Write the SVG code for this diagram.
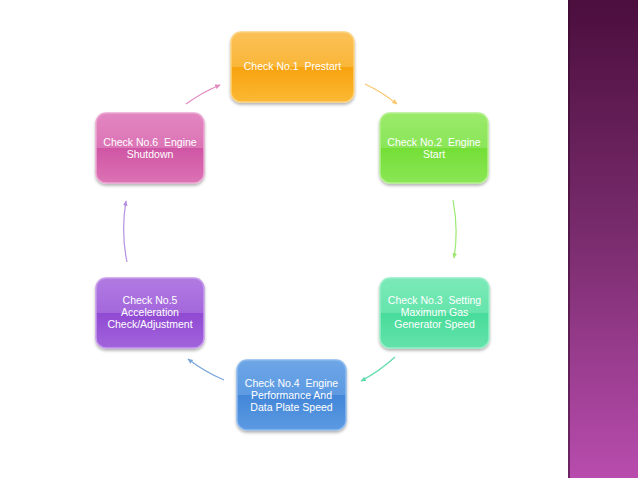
<svg xmlns="http://www.w3.org/2000/svg" width="638" height="478" viewBox="0 0 638 478">
<defs>
<linearGradient id="bar" x1="0" y1="0" x2="0" y2="1">
<stop offset="0" stop-color="#4b0e3d"/><stop offset="0.5" stop-color="#7a2c6e"/><stop offset="1" stop-color="#b84cae"/>
</linearGradient>
<linearGradient id="gOr" x1="0" y1="0" x2="0" y2="1">
<stop offset="0" stop-color="#fbc158"/><stop offset="0.5" stop-color="#f9b638"/><stop offset="0.5" stop-color="#f7a30e"/><stop offset="1" stop-color="#fbb834"/>
</linearGradient>
<linearGradient id="gGr" x1="0" y1="0" x2="0" y2="1">
<stop offset="0" stop-color="#9bea6a"/><stop offset="0.5" stop-color="#8ae658"/><stop offset="0.5" stop-color="#74df36"/><stop offset="1" stop-color="#8ae656"/>
</linearGradient>
<linearGradient id="gTe" x1="0" y1="0" x2="0" y2="1">
<stop offset="0" stop-color="#7beab8"/><stop offset="0.5" stop-color="#66e4ac"/><stop offset="0.5" stop-color="#48dc9a"/><stop offset="1" stop-color="#64e2aa"/>
</linearGradient>
<linearGradient id="gBl" x1="0" y1="0" x2="0" y2="1">
<stop offset="0" stop-color="#6ea6e6"/><stop offset="0.5" stop-color="#5d9ae2"/><stop offset="0.5" stop-color="#4386d8"/><stop offset="1" stop-color="#5c9ae2"/>
</linearGradient>
<linearGradient id="gPu" x1="0" y1="0" x2="0" y2="1">
<stop offset="0" stop-color="#b07ae2"/><stop offset="0.5" stop-color="#a468dc"/><stop offset="0.5" stop-color="#904ad2"/><stop offset="1" stop-color="#a264dc"/>
</linearGradient>
<linearGradient id="gPk" x1="0" y1="0" x2="0" y2="1">
<stop offset="0" stop-color="#e286c0"/><stop offset="0.5" stop-color="#dc74b6"/><stop offset="0.5" stop-color="#cf56a4"/><stop offset="1" stop-color="#dc72b4"/>
</linearGradient>
<filter id="sh" x="-10%" y="-10%" width="120%" height="130%">
<feDropShadow dx="0" dy="2" stdDeviation="1.5" flood-color="#000" flood-opacity="0.3"/>
</filter>
<marker id="aOr" viewBox="0 0 10 10" refX="8" refY="5" markerWidth="5" markerHeight="5" orient="auto"><path d="M0,1 L9,5 L0,9 z" fill="#fbc76a"/></marker>
<marker id="aGr" viewBox="0 0 10 10" refX="8" refY="5" markerWidth="5" markerHeight="5" orient="auto"><path d="M0,1 L9,5 L0,9 z" fill="#9ce874"/></marker>
<marker id="aTe" viewBox="0 0 10 10" refX="8" refY="5" markerWidth="5" markerHeight="5" orient="auto"><path d="M0,1 L9,5 L0,9 z" fill="#5fdcaa"/></marker>
<marker id="aBl" viewBox="0 0 10 10" refX="8" refY="5" markerWidth="5" markerHeight="5" orient="auto"><path d="M0,1 L9,5 L0,9 z" fill="#7aa6dc"/></marker>
<marker id="aPu" viewBox="0 0 10 10" refX="8" refY="5" markerWidth="5" markerHeight="5" orient="auto"><path d="M0,1 L9,5 L0,9 z" fill="#b690e2"/></marker>
<marker id="aPk" viewBox="0 0 10 10" refX="8" refY="5" markerWidth="5" markerHeight="5" orient="auto"><path d="M0,1 L9,5 L0,9 z" fill="#e08ac0"/></marker>
</defs>
<style>
.box{stroke-width:1.5;filter:url(#sh)}
.t{font-family:"Liberation Sans",Arial,sans-serif;font-size:10.5px;fill:#ffffff;text-anchor:middle;white-space:pre}
.c{fill:none;stroke-width:1.2}
</style>
<rect width="638" height="478" fill="#ffffff"/>
<rect x="568" y="0" width="70" height="478" fill="url(#bar)"/>
<rect x="568" y="0" width="2" height="478" fill="#3a0a30" opacity="0.6"/>

<g id="connectors">
<path class="c" d="M365,84 A165,165 0 0 1 397,104" stroke="#fbc76a" marker-end="url(#aOr)"/>
<path class="c" d="M453,200 A165,165 0 0 1 454,258" stroke="#9ce874" marker-end="url(#aGr)"/>
<path class="c" d="M395,357 A165,165 0 0 1 361,381" stroke="#5fdcaa" marker-end="url(#aTe)"/>
<path class="c" d="M224,380 A165,165 0 0 1 188,359" stroke="#7aa6dc" marker-end="url(#aBl)"/>
<path class="c" d="M127,262 A165,165 0 0 1 126,201" stroke="#b690e2" marker-end="url(#aPu)"/>
<path class="c" d="M186,104 A165,165 0 0 1 220,85" stroke="#e08ac0" marker-end="url(#aPk)"/>
</g>

<g id="n1">
<rect class="box" x="231" y="32" width="123" height="70" rx="10" fill="url(#gOr)" stroke="#fcd27c"/>
<text class="t" x="292.5" y="70" xml:space="preserve">Check No.1  Prestart</text>
</g>
<g id="n2">
<rect class="box" x="380" y="113" width="108" height="70" rx="10" fill="url(#gGr)" stroke="#b4f08e"/>
<text class="t" x="434" y="146" xml:space="preserve">Check No.2  Engine</text>
<text class="t" x="434" y="158">Start</text>
</g>
<g id="n3">
<rect class="box" x="380" y="278" width="109" height="70" rx="10" fill="url(#gTe)" stroke="#94eec6"/>
<text class="t" x="434.5" y="304" xml:space="preserve">Check No.3  Setting</text>
<text class="t" x="434.5" y="316">Maximum Gas</text>
<text class="t" x="434.5" y="328">Generator Speed</text>
</g>
<g id="n4">
<rect class="box" x="237" y="360" width="109" height="70" rx="10" fill="url(#gBl)" stroke="#8cbaee"/>
<text class="t" x="291.5" y="387" xml:space="preserve">Check No.4  Engine</text>
<text class="t" x="291.5" y="399">Performance And</text>
<text class="t" x="291.5" y="411">Data Plate Speed</text>
</g>
<g id="n5">
<rect class="box" x="96" y="278" width="108" height="70" rx="10" fill="url(#gPu)" stroke="#c69ceb"/>
<text class="t" x="150" y="304">Check No.5</text>
<text class="t" x="150" y="316">Acceleration</text>
<text class="t" x="150" y="328">Check/Adjustment</text>
</g>
<g id="n6">
<rect class="box" x="96" y="113" width="108" height="70" rx="10" fill="url(#gPk)" stroke="#eca6d2"/>
<text class="t" x="150" y="146" xml:space="preserve">Check No.6  Engine</text>
<text class="t" x="150" y="158">Shutdown</text>
</g>
</svg>
